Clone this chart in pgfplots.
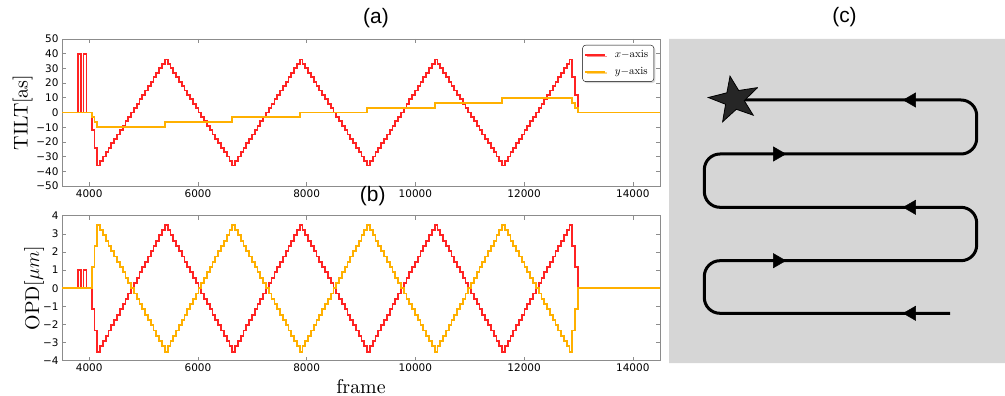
\documentclass[border=0pt]{standalone}
\usepackage{fix-cm}
\usepackage{fontspec}
\usepackage{pgfplots}
\usepackage{pgfplotstable}
\pgfplotsset{compat=1.18}
\usetikzlibrary{shadows}
\newfontfamily\dejavu{DejaVu Sans}
\newfontfamily\helv{Liberation Sans}
\newfontfamily\cmten{lmroman10-regular}[Extension=.otf]
\definecolor{mred}{RGB}{255,35,35}
\definecolor{myel}{RGB}{255,176,0}
\definecolor{bggray}{RGB}{214,214,214}
\definecolor{framegray}{RGB}{140,140,140}

% frame, x-axis tilt, x-axis OPD, y-axis OPD
\pgfplotstableread{
t tx ox oy
3500 0 0 0
3790 40 1 0
3845 0 0 0
3895 40 1 0
3950 0 0 0
4046 -12 -1.167 1.167
4098 -24 -2.333 2.333
4150.0 -36 -3.5 3.5
4201.7 -33 -3.208 3.208
4253.4 -30 -2.917 2.917
4305.1 -27 -2.625 2.625
4356.8 -24 -2.333 2.333
4408.5 -21 -2.042 2.042
4460.2 -18 -1.75 1.75
4511.9 -15 -1.458 1.458
4563.6 -12 -1.167 1.167
4615.3 -9 -0.875 0.875
4667.0 -6 -0.583 0.583
4718.7 -3 -0.292 0.292
4770.4 0 0 0
4822.1 3 0.292 -0.292
4873.8 6 0.583 -0.583
4925.5 9 0.875 -0.875
4977.2 12 1.167 -1.167
5028.9 15 1.458 -1.458
5080.6 18 1.75 -1.75
5132.3 21 2.042 -2.042
5184.0 24 2.333 -2.333
5235.7 27 2.625 -2.625
5287.4 30 2.917 -2.917
5339.1 33 3.208 -3.208
5390.8 36 3.5 -3.5
5442.5 33 3.208 -3.208
5494.2 30 2.917 -2.917
5545.9 27 2.625 -2.625
5597.6 24 2.333 -2.333
5649.3 21 2.042 -2.042
5701.0 18 1.75 -1.75
5752.7 15 1.458 -1.458
5804.4 12 1.167 -1.167
5856.1 9 0.875 -0.875
5907.8 6 0.583 -0.583
5959.5 3 0.292 -0.292
6011.2 0 0 0
6062.9 -3 -0.292 0.292
6114.6 -6 -0.583 0.583
6166.3 -9 -0.875 0.875
6218.0 -12 -1.167 1.167
6269.7 -15 -1.458 1.458
6321.4 -18 -1.75 1.75
6373.1 -21 -2.042 2.042
6424.8 -24 -2.333 2.333
6476.5 -27 -2.625 2.625
6528.2 -30 -2.917 2.917
6579.9 -33 -3.208 3.208
6631.6 -36 -3.5 3.5
6683.3 -33 -3.208 3.208
6735.0 -30 -2.917 2.917
6786.7 -27 -2.625 2.625
6838.4 -24 -2.333 2.333
6890.1 -21 -2.042 2.042
6941.8 -18 -1.75 1.75
6993.5 -15 -1.458 1.458
7045.2 -12 -1.167 1.167
7096.9 -9 -0.875 0.875
7148.6 -6 -0.583 0.583
7200.3 -3 -0.292 0.292
7252.0 0 0 0
7303.7 3 0.292 -0.292
7355.4 6 0.583 -0.583
7407.1 9 0.875 -0.875
7458.8 12 1.167 -1.167
7510.5 15 1.458 -1.458
7562.2 18 1.75 -1.75
7613.9 21 2.042 -2.042
7665.6 24 2.333 -2.333
7717.3 27 2.625 -2.625
7769.0 30 2.917 -2.917
7820.7 33 3.208 -3.208
7872.4 36 3.5 -3.5
7924.1 33 3.208 -3.208
7975.8 30 2.917 -2.917
8027.5 27 2.625 -2.625
8079.2 24 2.333 -2.333
8130.9 21 2.042 -2.042
8182.6 18 1.75 -1.75
8234.3 15 1.458 -1.458
8286.0 12 1.167 -1.167
8337.7 9 0.875 -0.875
8389.4 6 0.583 -0.583
8441.1 3 0.292 -0.292
8492.8 0 0 0
8544.5 -3 -0.292 0.292
8596.2 -6 -0.583 0.583
8647.9 -9 -0.875 0.875
8699.6 -12 -1.167 1.167
8751.3 -15 -1.458 1.458
8803.0 -18 -1.75 1.75
8854.7 -21 -2.042 2.042
8906.4 -24 -2.333 2.333
8958.1 -27 -2.625 2.625
9009.8 -30 -2.917 2.917
9061.5 -33 -3.208 3.208
9113.2 -36 -3.5 3.5
9164.9 -33 -3.208 3.208
9216.6 -30 -2.917 2.917
9268.3 -27 -2.625 2.625
9320.0 -24 -2.333 2.333
9371.7 -21 -2.042 2.042
9423.4 -18 -1.75 1.75
9475.1 -15 -1.458 1.458
9526.8 -12 -1.167 1.167
9578.5 -9 -0.875 0.875
9630.2 -6 -0.583 0.583
9681.9 -3 -0.292 0.292
9733.6 0 0 0
9785.3 3 0.292 -0.292
9837.0 6 0.583 -0.583
9888.7 9 0.875 -0.875
9940.4 12 1.167 -1.167
9992.1 15 1.458 -1.458
10043.8 18 1.75 -1.75
10095.5 21 2.042 -2.042
10147.2 24 2.333 -2.333
10198.9 27 2.625 -2.625
10250.6 30 2.917 -2.917
10302.3 33 3.208 -3.208
10354.0 36 3.5 -3.5
10405.7 33 3.208 -3.208
10457.4 30 2.917 -2.917
10509.1 27 2.625 -2.625
10560.8 24 2.333 -2.333
10612.5 21 2.042 -2.042
10664.2 18 1.75 -1.75
10715.9 15 1.458 -1.458
10767.6 12 1.167 -1.167
10819.3 9 0.875 -0.875
10871.0 6 0.583 -0.583
10922.7 3 0.292 -0.292
10974.4 0 0 0
11026.1 -3 -0.292 0.292
11077.8 -6 -0.583 0.583
11129.5 -9 -0.875 0.875
11181.2 -12 -1.167 1.167
11232.9 -15 -1.458 1.458
11284.6 -18 -1.75 1.75
11336.3 -21 -2.042 2.042
11388.0 -24 -2.333 2.333
11439.7 -27 -2.625 2.625
11491.4 -30 -2.917 2.917
11543.1 -33 -3.208 3.208
11594.8 -36 -3.5 3.5
11646.5 -33 -3.208 3.208
11698.2 -30 -2.917 2.917
11749.9 -27 -2.625 2.625
11801.6 -24 -2.333 2.333
11853.3 -21 -2.042 2.042
11905.0 -18 -1.75 1.75
11956.7 -15 -1.458 1.458
12008.4 -12 -1.167 1.167
12060.1 -9 -0.875 0.875
12111.8 -6 -0.583 0.583
12163.5 -3 -0.292 0.292
12215.2 0 0 0
12266.9 3 0.292 -0.292
12318.6 6 0.583 -0.583
12370.3 9 0.875 -0.875
12422.0 12 1.167 -1.167
12473.7 15 1.458 -1.458
12525.4 18 1.75 -1.75
12577.1 21 2.042 -2.042
12628.8 24 2.333 -2.333
12680.5 27 2.625 -2.625
12732.2 30 2.917 -2.917
12783.9 33 3.208 -3.208
12835.6 36 3.5 -3.5
12887.3 24 2.333 -2.333
12939.0 12 1.167 -1.167
12990.7 0 0 0
14500 0 0 0
}\serieslvl

% frame, y-axis tilt
\pgfplotstableread{
t ty
3500 0
4046 -3.33
4098 -6.67
4150 -10
5390.8 -6.67
6631.6 -3.33
7872.4 0
9113.2 3.33
10354.0 6.67
11594.8 10
12887.3 6.67
12939.0 3.33
12990.7 0
14500 0
}\tiltyser

\pgfplotsset{
  sig/.style={
    scale only axis, width=598bp,
    xmin=3500, xmax=14500,
    scaled x ticks=false, scaled y ticks=false,
    axis line style={draw=framegray, line width=0.8bp},
    every tick/.style={draw=framegray, line width=0.6bp},
    major tick length=4bp,
    tick align=inside,
    xtick={4000,6000,8000,10000,12000,14000},
    xticklabels={4000,6000,8000,10000,12000,14000},
    ticklabel style={font=\dejavu\fontsize{10.5}{12}\selectfont},
    label style={font=\cmten\fontsize{20}{24}\selectfont},
    title style={font=\helv\fontsize{21}{24}\selectfont, anchor=center, at={(rel axis cs:0.5,1)}},
  }
}

\begin{document}
\begin{tikzpicture}
\path[use as bounding box] (0bp,0bp) rectangle (1005bp,396bp);

% (a) TILT
\begin{axis}[sig, at={(62bp,210bp)}, anchor=south west, height=147bp,
  ymin=-50, ymax=50,
  ytick={-50,-40,-30,-20,-10,0,10,20,30,40,50},
  yticklabels={−50,−40,−30,−20,−10,0,10,20,30,40,50},
  ylabel={TILT[as]}, ylabel shift=-3bp,
  title={(a)}, title style={xshift=15bp, yshift=15bp},
  legend cell align=left,
  legend image code/.code={\draw[#1] (0bp,0bp) -- (20bp,0bp);},
  legend style={at={(rel axis cs:1,1)}, anchor=north east, xshift=-6bp, yshift=-6bp,
    rounded corners=3bp, fill=white, inner xsep=2bp, inner ysep=1.5bp,
    row sep=0bp,
    nodes={inner sep=3.5bp, text depth=0.25em},
    /tikz/every odd column/.append style={column sep=5bp},
    font=\cmten\fontsize{11}{13}\selectfont,
    drop shadow={shadow xshift=1.5bp, shadow yshift=-1.5bp, fill=gray!60}},
]
\addplot[const plot, draw=mred, line width=1.8bp] table[x=t, y=tx] {\serieslvl};
\addlegendentry{$x{-}$axis}
\addplot[const plot, draw=myel, line width=1.8bp] table[x=t, y=ty] {\tiltyser};
\addlegendentry{$y{-}$axis}
\end{axis}

% (b) OPD
\begin{axis}[sig, at={(62bp,35.3bp)}, anchor=south west, height=145bp,
  ymin=-4, ymax=4,
  ytick={-4,-3,-2,-1,0,1,2,3,4},
  yticklabels={−4,−3,−2,−1,0,1,2,3,4},
  ylabel={OPD[$\mu m$]}, ylabel shift=-8bp,
  xlabel={frame},
  title={(b)}, title style={xshift=11.7bp, yshift=13.7bp},
]
\addplot[const plot, draw=mred, line width=1.8bp] table[x=t, y=ox] {\serieslvl};
\addplot[const plot, draw=myel, line width=1.8bp] table[x=t, y=oy] {\serieslvl};
\end{axis}

% (c) scan path
\begin{axis}[at={(669bp,33bp)}, anchor=south west, scale only axis,
  width=336bp, height=324bp, xmin=0, xmax=336, ymin=0, ymax=324,
  hide axis, clip=false,
  title={(c)}, title style={font=\helv\fontsize{21}{24}\selectfont, anchor=center,
    at={(rel axis cs:0.5,1)}, xshift=7.5bp, yshift=15.5bp},
]
\addplot[draw=none, fill=bggray] coordinates {(0,0) (336,0) (336,324) (0,324) (0,0)};
\addplot[black, line width=3bp, rounded corners=15.7bp, line join=round, line cap=butt]
  coordinates {(281,49.7) (35.3,49.7) (35.3,102.3) (307.7,102.3) (307.7,155.7)
               (35.3,155.7) (35.3,209) (307.7,209) (307.7,263) (67.7,263)};
\addplot[only marks, mark=triangle*, mark size=8.2bp, line width=0.5bp,
  mark options={rotate=90, fill=black, draw=black}]
  coordinates {(242.5,49.7) (242.5,155.7) (242.5,263)};
\addplot[only marks, mark=triangle*, mark size=8.2bp, line width=0.5bp,
  mark options={rotate=-90, fill=black, draw=black}]
  coordinates {(108.5,102.3) (108.5,209)};
\addplot[fill=black!85, draw=black, line width=0.8bp, line join=miter]
  coordinates {(88.6,275.4) (69.7,272.5) (61.0,286.8) (57.9,270.2) (39.3,265.5)
               (56.6,258.7) (53.6,241.2) (67.3,253.7) (84.2,247.8) (75.2,262.4) (88.6,275.4)};
\end{axis}
\end{tikzpicture}
\end{document}
